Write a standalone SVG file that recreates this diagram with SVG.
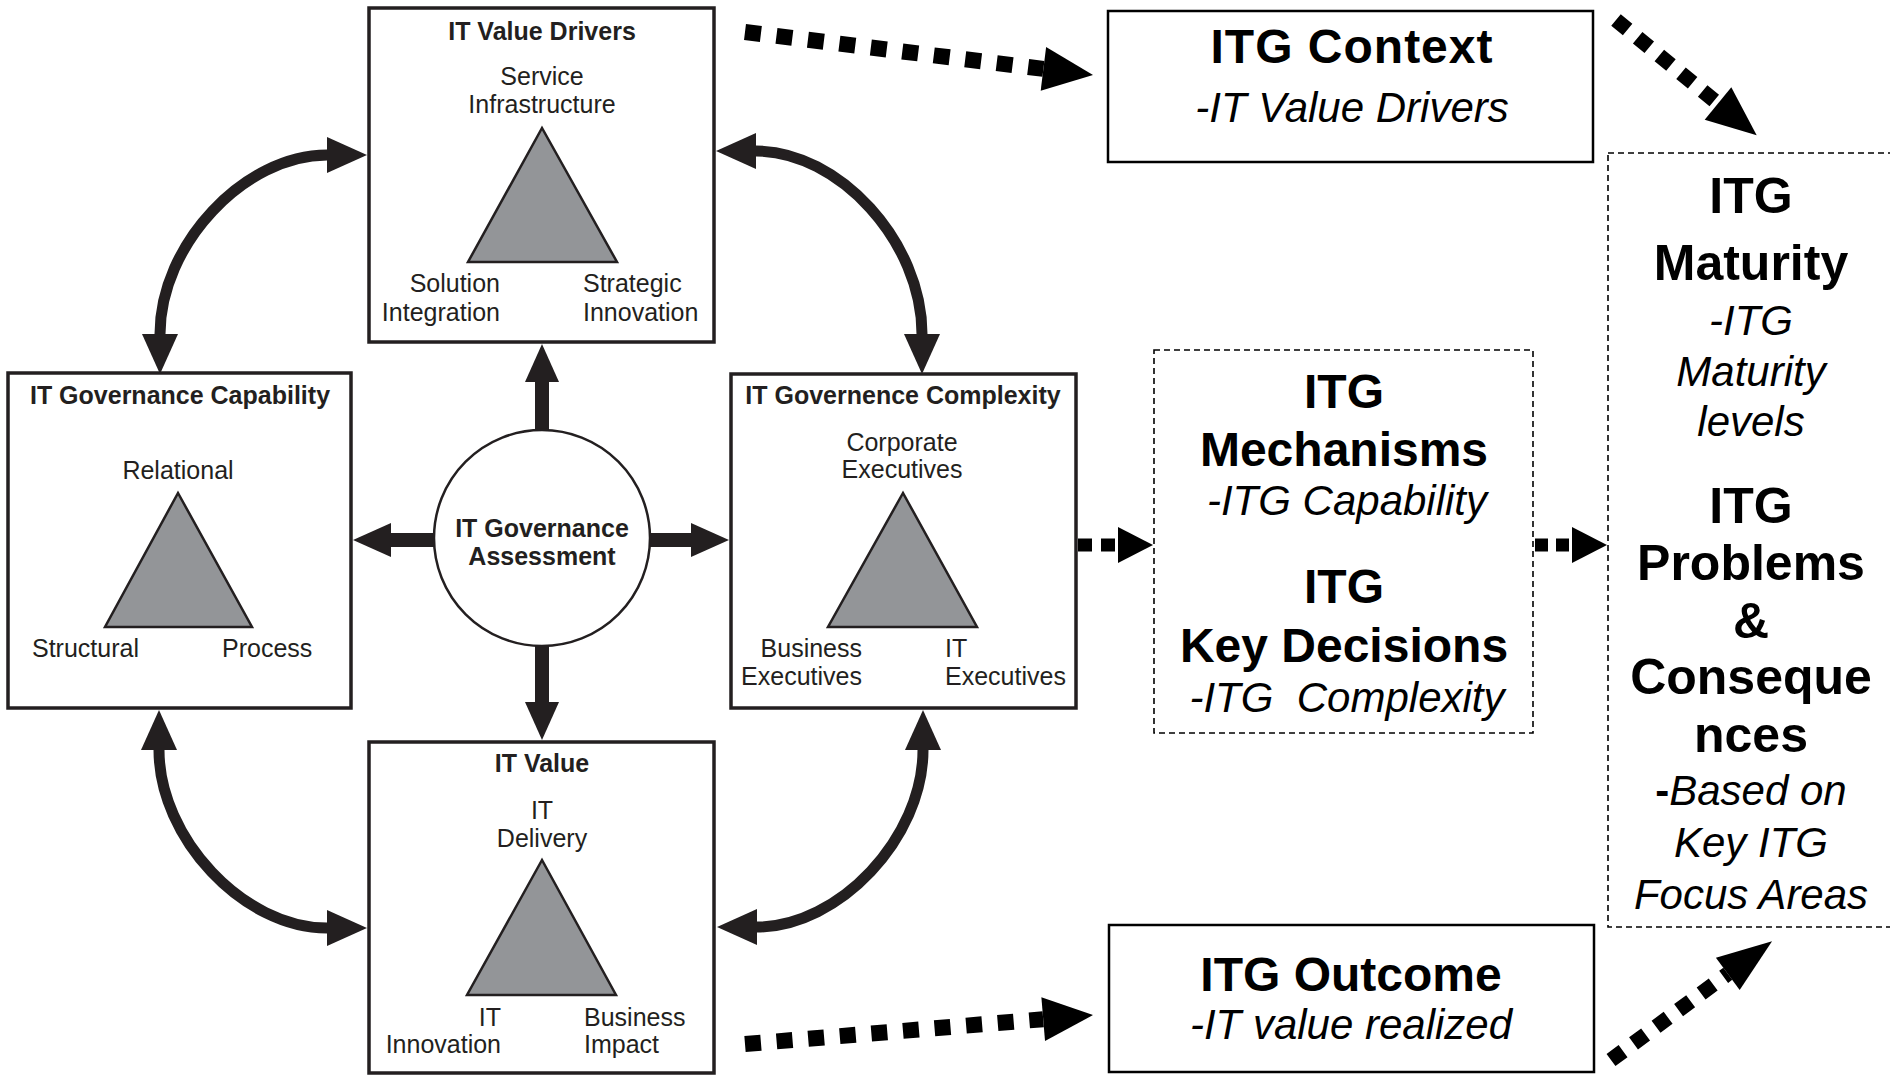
<svg xmlns="http://www.w3.org/2000/svg" width="1890" height="1075" viewBox="0 0 1890 1075">
  <style>
    .box { fill: #fff; stroke: #231f20; stroke-width: 3.5; }
    .tri { fill: #939598; stroke: #231f20; stroke-width: 2.5; stroke-linejoin: miter; }
    .ttl { font-family: 'Liberation Sans', Arial, sans-serif; font-weight: bold; font-size: 25px; fill: #231f20; text-anchor: middle; }
    .lbl { font-family: 'Liberation Sans', Arial, sans-serif; font-size: 25px; fill: #231f20; }
    .mid { text-anchor: middle; }
    .end { text-anchor: end; }
    .pbox { fill: #fff; stroke: #000; stroke-width: 2.5; }
    .dbox { fill: #fff; stroke: #000; stroke-width: 1.6; stroke-dasharray: 6 4; }
    .big { font-family: 'Liberation Sans', Arial, sans-serif; font-weight: bold; font-size: 48px; fill: #000; text-anchor: middle; }
    .big50 { font-size: 50px; }
    .it { font-family: 'Liberation Sans', Arial, sans-serif; font-style: italic; font-size: 42px; fill: #000; text-anchor: middle; }
    .curve { fill: none; stroke: #231f20; stroke-width: 11; marker-start: url(#curveHead); marker-end: url(#curveHead); }
    .shaft { stroke: #231f20; stroke-width: 14; marker-end: url(#solidHead); }
    .dots { fill: none; stroke: #000; }
  </style>
  <defs>
    <marker id="curveHead" markerUnits="userSpaceOnUse" markerWidth="44" markerHeight="40" refX="0" refY="18" orient="auto-start-reverse" overflow="visible">
      <path d="M0,0 L40,18 L0,36 Z" fill="#231f20"/>
    </marker>
    <marker id="solidHead" markerUnits="userSpaceOnUse" markerWidth="40" markerHeight="36" refX="0" refY="17" orient="auto" overflow="visible">
      <path d="M0,0 L38,17 L0,34 Z" fill="#231f20"/>
    </marker>
    <marker id="dotHead" markerUnits="userSpaceOnUse" markerWidth="52" markerHeight="46" refX="0" refY="22" orient="auto" overflow="visible">
      <path d="M0,0 L50,22 L0,44 Z" fill="#000"/>
    </marker>
    <marker id="dotHeadSmall" markerUnits="userSpaceOnUse" markerWidth="37" markerHeight="37" refX="0" refY="18" orient="auto" overflow="visible">
      <path d="M0,0 L35,18 L0,36 Z" fill="#000"/>
    </marker>
    <marker id="dotHeadDiag" markerUnits="userSpaceOnUse" markerWidth="52" markerHeight="44" refX="0" refY="21" orient="auto" overflow="visible">
      <path d="M0,0 L50,21 L0,42 Z" fill="#000"/>
    </marker>
    <marker id="dotHeadLong" markerUnits="userSpaceOnUse" markerWidth="57" markerHeight="42" refX="0" refY="20" orient="auto" overflow="visible">
      <path d="M0,0 L55,20 L0,40 Z" fill="#000"/>
    </marker>
  </defs>

  <rect width="1890" height="1075" fill="#fff"/>

  <!-- connectors -->
  <g id="connectors">
    <!-- curved two-way arrows between the four outer boxes -->
    <path class="curve" d="M160,334 C160,244.5 244.5,155 327,155"/>
    <path class="curve" d="M756,151 C839,151 922,242 922,334"/>
    <path class="curve" d="M159,750 C159,838 243.5,928 327,928"/>
    <path class="curve" d="M923,750 C923,838 839,927 757,927"/>

    <!-- straight arrows from the central assessment -->
    <line class="shaft" x1="542" y1="432" x2="542" y2="382"/>
    <line class="shaft" x1="436" y1="540" x2="391" y2="540"/>
    <line class="shaft" x1="648" y1="540" x2="691" y2="540"/>
    <line class="shaft" x1="542" y1="644" x2="542" y2="702"/>

    <!-- dotted arrows toward the ITG summary boxes -->
    <path class="dots" stroke-width="16" stroke-dasharray="16 15.7" d="M745,32 L1043.4,68.9" marker-end="url(#dotHead)"/>
    <path class="dots" stroke-width="16" stroke-dasharray="16 15.7" d="M745,1044 L1043.2,1019.2" marker-end="url(#dotHead)"/>
    <path class="dots" stroke-width="13" stroke-dasharray="14 9" d="M1078,545 L1118,545" marker-end="url(#dotHeadSmall)"/>
    <path class="dots" stroke-width="13" stroke-dasharray="13 8" d="M1535,545 L1572,545" marker-end="url(#dotHeadSmall)"/>
    <path class="dots" stroke-width="15" stroke-dasharray="15 13" d="M1616,20 L1718,103.5" marker-end="url(#dotHeadDiag)"/>
    <path class="dots" stroke-width="15" stroke-dasharray="15 13" d="M1611,1060 L1727.8,973.8" marker-end="url(#dotHeadLong)"/>
  </g>

  <!-- IT Value Drivers -->
  <g id="it-value-drivers">
    <rect class="box" x="369" y="8" width="345" height="334"/>
    <text class="ttl" x="542" y="40">IT Value Drivers</text>
    <text class="lbl mid" x="542" y="85">Service</text>
    <text class="lbl mid" x="542" y="113">Infrastructure</text>
    <polygon class="tri" points="542,128 468,262 617,262"/>
    <text class="lbl end" x="500" y="292">Solution</text>
    <text class="lbl end" x="500" y="321">Integration</text>
    <text class="lbl" x="583" y="292">Strategic</text>
    <text class="lbl" x="583" y="321">Innovation</text>
  </g>

  <!-- IT Governance Capability -->
  <g id="it-governance-capability">
    <rect class="box" x="8" y="373" width="343" height="335"/>
    <text class="ttl" x="180" y="404">IT Governance Capability</text>
    <text class="lbl mid" x="178" y="479">Relational</text>
    <polygon class="tri" points="178,493 105,627 252,627"/>
    <text class="lbl" x="32" y="657">Structural</text>
    <text class="lbl" x="222" y="657">Process</text>
  </g>

  <!-- IT Governance Complexity -->
  <g id="it-governance-complexity">
    <rect class="box" x="731" y="374" width="345" height="334"/>
    <text class="ttl" x="903" y="404">IT Governence Complexity</text>
    <text class="lbl mid" x="902" y="451">Corporate</text>
    <text class="lbl mid" x="902" y="478">Executives</text>
    <polygon class="tri" points="903,493 828,627 977,627"/>
    <text class="lbl end" x="862" y="657">Business</text>
    <text class="lbl end" x="862" y="685">Executives</text>
    <text class="lbl" x="945" y="657">IT</text>
    <text class="lbl" x="945" y="685">Executives</text>
  </g>

  <!-- IT Value -->
  <g id="it-value">
    <rect class="box" x="369" y="742" width="345" height="331"/>
    <text class="ttl" x="542" y="772">IT Value</text>
    <text class="lbl mid" x="542" y="819">IT</text>
    <text class="lbl mid" x="542" y="847">Delivery</text>
    <polygon class="tri" points="542,860 467,995 616,995"/>
    <text class="lbl end" x="501" y="1026">IT</text>
    <text class="lbl end" x="501" y="1053">Innovation</text>
    <text class="lbl" x="584" y="1026">Business</text>
    <text class="lbl" x="584" y="1053">Impact</text>
  </g>

  <!-- IT Governance Assessment -->
  <g id="it-governance-assessment">
    <circle cx="542" cy="538" r="108" fill="#fff" stroke="#231f20" stroke-width="2.5"/>
    <text class="ttl" x="542" y="537">IT Governance</text>
    <text class="ttl" x="542" y="565">Assessment</text>
  </g>

  <!-- ITG Context -->
  <g id="itg-context">
    <rect class="pbox" x="1108" y="11" width="485" height="151"/>
    <text class="big" x="1352" y="63" letter-spacing="1">ITG Context</text>
    <text class="it" x="1352" y="122">-IT Value Drivers</text>
  </g>

  <!-- ITG Mechanisms / Key Decisions -->
  <g id="itg-mechanisms">
    <rect class="dbox" x="1154" y="350" width="379" height="383"/>
    <text class="big" x="1344" y="408">ITG</text>
    <text class="big" x="1344" y="466">Mechanisms</text>
    <text class="it" x="1347" y="515">-ITG Capability</text>
    <text class="big" x="1344" y="603">ITG</text>
    <text class="big" x="1344" y="662">Key Decisions</text>
    <text class="it" x="1347" y="712" xml:space="preserve">-ITG  Complexity</text>
  </g>

  <!-- ITG Maturity / Problems & Consequences -->
  <g id="itg-maturity">
    <rect class="dbox" x="1608" y="153" width="300" height="774"/>
    <text class="big big50" x="1751" y="213">ITG</text>
    <text class="big big50" x="1751" y="280">Maturity</text>
    <text class="it" x="1751" y="335">-ITG</text>
    <text class="it" x="1751" y="386">Maturity</text>
    <text class="it" x="1751" y="436">levels</text>
    <text class="big big50" x="1751" y="523">ITG</text>
    <text class="big big50" x="1751" y="580">Problems</text>
    <text class="big big50" x="1751" y="638">&amp;</text>
    <text class="big big50" x="1751" y="694">Conseque</text>
    <text class="big big50" x="1751" y="752">nces</text>
    <text class="it" x="1751" y="805"><tspan font-weight="bold" font-style="normal">-</tspan>Based on</text>
    <text class="it" x="1751" y="857">Key ITG</text>
    <text class="it" x="1751" y="909">Focus Areas</text>
  </g>

  <!-- ITG Outcome -->
  <g id="itg-outcome">
    <rect class="pbox" x="1109" y="925" width="485" height="147"/>
    <text class="big" x="1351" y="991">ITG Outcome</text>
    <text class="it" x="1351" y="1039">-IT value realized</text>
  </g>
</svg>
